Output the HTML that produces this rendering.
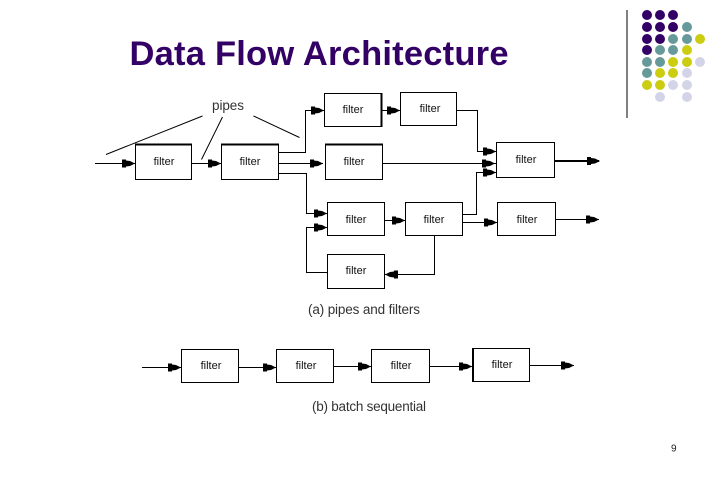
<!DOCTYPE html>
<html><head><meta charset="utf-8"><style>
html,body{margin:0;padding:0;background:#fff}
svg{display:block}
text{font-family:"Liberation Sans",sans-serif}
.f{font-size:11px;fill:#111;text-anchor:middle}
.l{font-size:13.5px;fill:#333}
</style></head><body>
<svg width="720" height="480" viewBox="0 0 720 480" xmlns="http://www.w3.org/2000/svg">
<defs><polygon id="a" points="0,0 -5,-2.5 -9,-3 -9,-4 -13,-4 -13,4 -9,4 -9,3 -5,2.5" fill="#000"/></defs>
<rect width="720" height="480" fill="#fff"/>
<text x="129.5" y="65" font-size="34.5" font-weight="bold" fill="#330066" textLength="379" lengthAdjust="spacing">Data Flow Architecture</text>
<line x1="627" y1="10" x2="627" y2="118" stroke="#000" stroke-width="1"/>
<g fill="#330066"><circle cx="647" cy="15" r="5"/><circle cx="660" cy="15" r="5"/><circle cx="673" cy="15" r="5"/><circle cx="647" cy="27" r="5"/><circle cx="660" cy="27" r="5"/><circle cx="673" cy="27" r="5"/><circle cx="647" cy="39" r="5"/><circle cx="660" cy="39" r="5"/><circle cx="647" cy="50" r="5"/></g>
<g fill="#669999"><circle cx="687" cy="27" r="5"/><circle cx="673" cy="39" r="5"/><circle cx="687" cy="39" r="5"/><circle cx="660" cy="50" r="5"/><circle cx="673" cy="50" r="5"/><circle cx="647" cy="62" r="5"/><circle cx="660" cy="62" r="5"/><circle cx="647" cy="73" r="5"/></g>
<g fill="#cccc11"><circle cx="700" cy="39" r="5"/><circle cx="687" cy="50" r="5"/><circle cx="673" cy="62" r="5"/><circle cx="687" cy="62" r="5"/><circle cx="660" cy="73" r="5"/><circle cx="673" cy="73" r="5"/><circle cx="647" cy="85" r="5"/><circle cx="660" cy="85" r="5"/></g>
<g fill="#d4d4e8"><circle cx="700" cy="62" r="5"/><circle cx="687" cy="73" r="5"/><circle cx="673" cy="85" r="5"/><circle cx="687" cy="85" r="5"/><circle cx="660" cy="97" r="5"/><circle cx="687" cy="97" r="5"/></g>

<g fill="none" stroke="#000" stroke-width="1">
<rect x="135.5" y="144.5" width="56" height="35"/><rect x="221.5" y="144.5" width="57" height="35"/>
<rect x="324.5" y="93.5" width="57" height="33"/><rect x="400.5" y="92.5" width="56" height="33"/>
<rect x="325.5" y="144.5" width="57" height="35"/><rect x="496.5" y="142.5" width="58" height="35"/>
<rect x="327.5" y="202.5" width="57" height="33"/><rect x="405.5" y="202.5" width="57" height="33"/>
<rect x="497.5" y="202.5" width="58" height="33"/><rect x="327.5" y="254.5" width="57" height="34"/>
<rect x="181.5" y="349.5" width="57" height="33"/><rect x="276.5" y="349.5" width="57" height="33"/>
<rect x="371.5" y="349.5" width="58" height="33"/><rect x="472.5" y="348.5" width="57" height="33"/>
<path d="M135 144.5H192M221 144.5H279M325 144.5H383M381.5 93V127M473 348V382" stroke-width="2"/>
<path d="M95 163.5H135M192 163.5H221M279 152.5H305.5V110.5H324M279 163.5H323M279 173.5H306.5V213.5H327M381 110.5H400M456 110.5H477.5V151.5H496M383 163.5H496M463 214.5H476.5V172.5H496M463 222.5H497M385 220.5H405M556 219.5H599M327 272.5H306.5V227.5H327M434.5 236V274.5H385"/>
<path d="M555 161H599" stroke-width="2"/>
<path d="M142 367.5H181M239 367.5H276M334 366.5H371M430 366.5H472M530 365.5H574"/>
<path d="M106 154.5L202.5 116M222.5 117L201.5 159.5M253.5 116L299.5 137.5"/>
</g>
<use href="#a" x="135" y="163.5"/><use href="#a" x="221" y="163.5"/><use href="#a" x="324" y="110.5"/><use href="#a" x="323" y="163.5"/><use href="#a" x="327" y="213.5"/><use href="#a" x="400" y="110.5"/><use href="#a" x="496" y="151.5"/><use href="#a" x="495" y="163.5"/><use href="#a" x="496" y="172.5"/><use href="#a" x="600" y="161"/><use href="#a" x="497" y="222.5"/><use href="#a" x="405" y="220.5"/><use href="#a" x="599" y="219.5"/><use href="#a" x="327" y="227.5"/>
<use href="#a" transform="translate(385 274.5) rotate(180)"/>
<use href="#a" x="181" y="367.5"/><use href="#a" x="276" y="367.5"/><use href="#a" x="371" y="366.5"/><use href="#a" x="472" y="366.5"/><use href="#a" x="574" y="365.5"/>

<text class="f" x="164" y="165">filter</text><text class="f" x="250" y="165">filter</text>
<text class="f" x="353" y="113">filter</text><text class="f" x="430" y="112">filter</text>
<text class="f" x="354" y="165">filter</text><text class="f" x="526" y="163">filter</text>
<text class="f" x="356" y="223">filter</text><text class="f" x="434" y="223">filter</text>
<text class="f" x="527" y="223">filter</text><text class="f" x="356" y="274">filter</text>
<text class="f" x="211" y="369">filter</text><text class="f" x="306" y="369">filter</text>
<text class="f" x="401" y="369">filter</text><text class="f" x="502" y="368">filter</text>
<text class="l" x="212" y="110" textLength="32">pipes</text>
<text class="l" x="308" y="314" textLength="112">(a)  pipes and filters</text>
<text class="l" x="312" y="411" textLength="114">(b)  batch sequential</text>
<text x="671" y="451.5" font-size="10" fill="#222">9</text>
</svg>
</body></html>
